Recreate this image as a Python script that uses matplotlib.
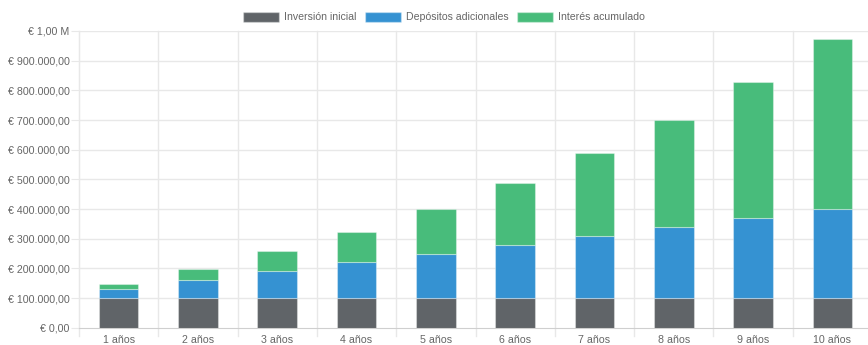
import matplotlib
matplotlib.use("Agg")
import matplotlib.pyplot as plt
from matplotlib.patches import Patch
import numpy as np

categories = ["1 años", "2 años", "3 años", "4 años", "5 años",
              "6 años", "7 años", "8 años", "9 años", "10 años"]
inversion_inicial = [100000] * 10
depositos = [30000, 60000, 90000, 120000, 150000, 180000, 210000, 240000, 270000, 300000]
interes = [17500, 39500, 67500, 103500, 151000, 208000, 278000, 360000, 459000, 574000]
series_names = ["Inversión inicial", "Depósitos adicionales", "Interés acumulado"]
colors = ["#606468", "#3592d2", "#48bc7b"]
y_ticks = [0, 100000, 200000, 300000, 400000, 500000, 600000, 700000, 800000, 900000, 1000000]
y_tick_labels = ["€ 0,00", "€ 100.000,00", "€ 200.000,00", "€ 300.000,00", "€ 400.000,00",
                 "€ 500.000,00", "€ 600.000,00", "€ 700.000,00", "€ 800.000,00",
                 "€ 900.000,00", "€ 1,00 M"]

plt.rcParams['font.family'] = ['Liberation Sans', 'DejaVu Sans']
W, H = 868, 345
fig = plt.figure(figsize=(W / 100, H / 100), dpi=100)
left, right, top, bottom = 79, 872, 31, 327.7
ax = fig.add_axes([left / W, (H - bottom) / H, (right - left) / W, (bottom - top) / H])

x = np.arange(len(categories))
bottoms = np.zeros(len(categories))
for vals, c in zip([inversion_inicial, depositos, interes], colors):
    ax.bar(x, vals, width=0.5, bottom=bottoms, color=c,
           edgecolor=(1, 1, 1, 0.35), linewidth=0.8, zorder=3)
    bottoms += np.array(vals)

ax.set_xlim(-0.5, len(categories) - 0.5)
ax.set_ylim(0, 1000000)
ax.set_yticks(y_ticks)
ax.set_yticklabels(y_tick_labels)
ax.set_xticks(x)
ax.set_xticklabels(categories)

grid_c = "#e8e8e8"
for yv in y_ticks[1:]:
    ax.axhline(yv, color=grid_c, lw=1, zorder=1)
for b in np.arange(0.5, len(categories), 1):
    ax.axvline(b, color=grid_c, lw=1, zorder=1, clip_on=False, ymin=-0.028, ymax=1)
ax.axvline(-0.5, color=grid_c, lw=1, zorder=1, clip_on=False, ymin=-0.028, ymax=1)

for s in ["top", "right"]:
    ax.spines[s].set_visible(False)
ax.spines["left"].set_color(grid_c)
ax.spines["bottom"].set_color("#cfcfcf")
ax.tick_params(axis="y", length=6, color=grid_c, labelcolor="#666666", labelsize=7.7, pad=0.8)
ax.tick_params(axis="x", length=0, labelcolor="#666666", labelsize=7.7, pad=5.5)

handles = [Patch(facecolor=c, edgecolor=(1, 1, 1, 0.35), label=n) for c, n in zip(colors, series_names)]
fig.legend(handles=handles, loc="center", bbox_to_anchor=(444 / W, 1 - 17 / H), ncol=3,
           frameon=False, fontsize=7.6, labelcolor="#666666", handlelength=3.4,
           handleheight=1.15, handletextpad=0.45, columnspacing=0.85, borderpad=0)

fig.savefig("out.png", dpi=100)
